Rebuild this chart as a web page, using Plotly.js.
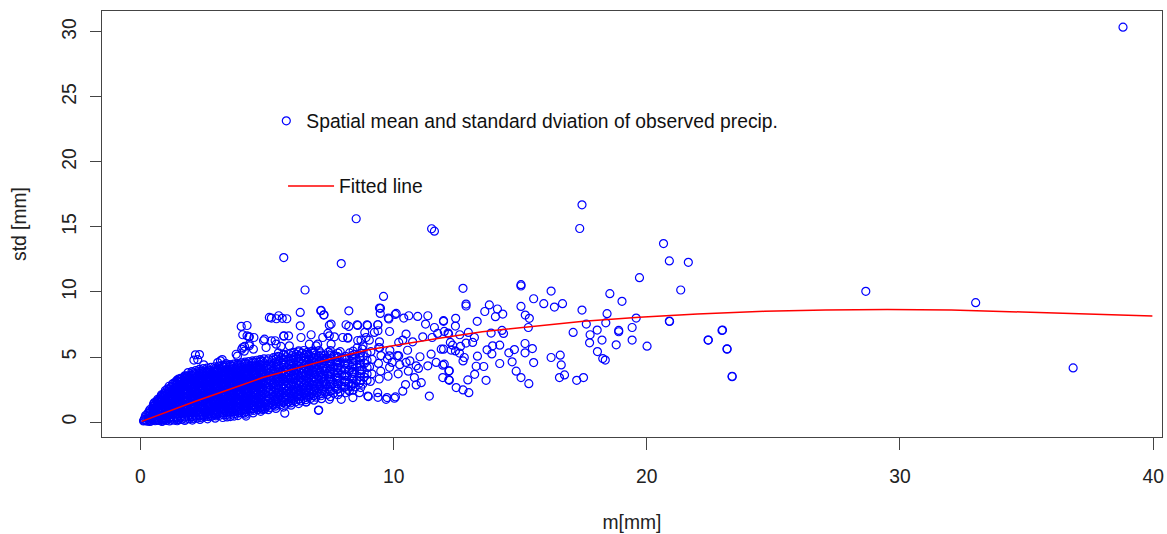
<!DOCTYPE html>
<html>
<head>
<meta charset="utf-8">
<script src="https://cdn.plot.ly/plotly-3.0.1.min.js"></script>
<style>html,body{margin:0;padding:0;background:#fff;}#chart{width:1167px;height:534px;}</style>
</head>
<body>
<div id="chart"></div>
<script>
// Observed (spatial mean m [mm], spatial std [mm]) pairs
const obsCore = [
[0.12,0.08],[0.15,0.2],[0.18,0.35],[0.14,0.12],[0.2,0.5],[0.22,0.1],
[0.28,0.06],[0.3,0.25],[0.32,0.45],[0.29,0.65],[0.33,0.8],[0.35,0.15],
[0.42,0.08],[0.45,0.3],[0.47,0.55],[0.44,0.8],[0.48,1.05],[0.5,1.25],[0.46,0.18],
[0.58,0.1],[0.6,0.35],[0.62,0.6],[0.59,0.9],[0.63,1.15],[0.61,1.4],[0.64,1.6],[0.66,0.22],
[0.73,0.12],[0.76,0.4],[0.74,0.7],[0.77,0.95],[0.75,1.25],[0.78,1.5],[0.76,1.75],[0.8,1.95],[0.79,0.25],
[0.88,0.1],[0.9,0.35],[0.92,0.62],[0.89,0.9],[0.93,1.2],[0.91,1.45],[0.94,1.72],[0.9,2.0],[0.95,2.25],[0.92,0.2],
[1.03,0.12],[1.05,0.4],[1.07,0.7],[1.04,0.98],[1.08,1.25],[1.06,1.55],[1.09,1.82],[1.05,2.1],[1.1,2.35],[1.07,2.55],[1.02,0.25],
[1.18,0.15],[1.2,0.42],[1.22,0.72],[1.19,1.0],[1.23,1.3],[1.21,1.6],[1.24,1.88],[1.2,2.15],[1.25,2.42],[1.22,2.7],[1.26,2.9],
[1.33,0.14],[1.36,0.45],[1.34,0.75],[1.37,1.05],[1.35,1.35],[1.38,1.65],[1.36,1.95],[1.39,2.25],[1.35,2.55],[1.4,2.8],[1.37,3.05],[1.41,0.3],
[1.48,0.18],[1.5,0.5],[1.52,0.8],[1.49,1.1],[1.53,1.4],[1.51,1.7],[1.54,2.0],[1.5,2.3],[1.55,2.6],[1.52,2.85],[1.56,3.1],[1.5,3.3],
[1.63,0.2],[1.66,0.52],[1.64,0.85],[1.67,1.15],[1.65,1.45],[1.68,1.78],[1.66,2.08],[1.69,2.38],[1.65,2.68],[1.7,2.95],[1.67,3.2],[1.72,3.45],
[1.78,0.22],[1.8,0.55],[1.82,0.88],[1.79,1.2],[1.83,1.5],[1.81,1.82],[1.84,2.12],[1.8,2.42],[1.85,2.72],[1.82,3.0],[1.86,3.28],[1.83,3.55],
[1.93,0.25],[1.96,0.58],[1.94,0.9],[1.97,1.22],[1.95,1.55],[1.98,1.88],[1.96,2.2],[1.99,2.5],[1.95,2.8],[2.0,3.08],[1.97,3.35],[2.01,3.62],
[2.08,0.28],[2.1,0.6],[2.12,0.95],[2.09,1.28],[2.13,1.6],[2.11,1.92],[2.14,2.25],[2.1,2.55],[2.15,2.85],[2.12,3.15],[2.16,3.42],[2.13,3.7],
[2.23,0.3],[2.26,0.62],[2.24,0.98],[2.27,1.3],[2.25,1.65],[2.28,1.98],[2.26,2.3],[2.29,2.6],[2.25,2.92],[2.3,3.2],[2.27,3.5],[2.31,3.78],
[2.38,0.35],[2.4,0.68],[2.42,1.0],[2.39,1.35],[2.43,1.68],[2.41,2.0],[2.44,2.35],[2.4,2.65],[2.45,2.95],[2.42,3.25],[2.46,3.55],[2.43,3.85],
[2.53,0.4],[2.56,0.72],[2.54,1.05],[2.57,1.4],[2.55,1.72],[2.58,2.05],[2.56,2.38],[2.59,2.7],[2.55,3.0],[2.6,3.3],[2.57,3.6],[2.61,3.9],
[2.68,0.42],[2.7,0.75],[2.72,1.1],[2.69,1.42],[2.73,1.78],[2.71,2.1],[2.74,2.42],[2.7,2.75],[2.75,3.05],[2.72,3.35],[2.76,3.65],[2.73,3.95],
[2.83,0.45],[2.86,0.78],[2.84,1.12],[2.87,1.45],[2.85,1.8],[2.88,2.12],[2.86,2.45],[2.89,2.78],[2.85,3.1],[2.9,3.4],[2.87,3.7],[2.91,4.0],
[2.98,0.48],[3.0,0.82],[3.02,1.15],[2.99,1.5],[3.03,1.82],[3.01,2.15],[3.04,2.5],[3.0,2.82],[3.05,3.15],[3.02,3.45],[3.06,3.75],[3.03,4.05],
[3.13,0.52],[3.16,0.85],[3.14,1.2],[3.17,1.52],[3.15,1.85],[3.18,2.2],[3.16,2.52],[3.19,2.85],[3.15,3.18],[3.2,3.5],[3.17,3.8],[3.21,4.1],
[3.28,0.55],[3.3,0.88],[3.32,1.22],[3.29,1.55],[3.33,1.9],[3.31,2.22],[3.34,2.55],[3.3,2.9],[3.35,3.22],[3.32,3.55],[3.36,3.85],[3.33,4.18],
[3.43,0.58],[3.46,0.9],[3.44,1.25],[3.47,1.6],[3.45,1.92],[3.48,2.25],[3.46,2.6],[3.49,2.92],[3.45,3.25],[3.5,3.58],[3.47,3.9],[3.51,4.22],
[3.58,0.6],[3.6,0.95],[3.62,1.28],[3.59,1.62],[3.63,1.95],[3.61,2.3],[3.64,2.62],[3.6,2.95],[3.65,3.3],[3.62,3.62],[3.66,3.95],[3.63,4.28],
[3.73,0.65],[3.76,0.98],[3.74,1.3],[3.77,1.65],[3.75,2.0],[3.78,2.32],[3.76,2.65],[3.79,3.0],[3.75,3.32],[3.8,3.65],[3.77,4.0],[3.81,4.32],
[3.88,0.7],[3.9,1.02],[3.92,1.35],[3.89,1.68],[3.93,2.02],[3.91,2.35],[3.94,2.7],[3.9,3.02],[3.95,3.35],[3.92,3.7],[3.96,4.02],[3.93,4.38],
[4.03,0.75],[4.06,1.08],[4.04,1.4],[4.07,1.72],[4.05,2.05],[4.08,2.4],[4.06,2.72],[4.09,3.05],[4.05,3.4],[4.1,3.72],[4.07,4.05],[4.11,4.42],
[4.18,0.8],[4.2,1.12],[4.22,1.45],[4.19,1.78],[4.23,2.1],[4.21,2.42],[4.24,2.75],[4.2,3.1],[4.25,3.42],[4.22,3.75],[4.26,4.1],[4.23,4.45],
[4.33,0.85],[4.36,1.15],[4.34,1.5],[4.37,1.82],[4.35,2.15],[4.38,2.48],[4.36,2.8],[4.39,3.12],[4.35,3.45],[4.4,3.8],[4.37,4.12],[4.41,4.5],
[4.48,0.9],[4.5,1.2],[4.52,1.52],[4.49,1.85],[4.53,2.18],[4.51,2.5],[4.54,2.82],[4.5,3.15],[4.55,3.5],[4.52,3.82],[4.56,4.15],[4.53,4.55],
[4.63,0.95],[4.66,1.25],[4.64,1.58],[4.67,1.9],[4.65,2.22],[4.68,2.55],[4.66,2.88],[4.69,3.2],[4.65,3.52],[4.7,3.85],[4.67,4.2],[4.71,4.6],
[4.78,1.0],[4.8,1.3],[4.82,1.62],[4.79,1.95],[4.83,2.28],[4.81,2.6],[4.84,2.92],[4.8,3.25],[4.85,3.58],[4.82,3.9],[4.86,4.25],[4.83,4.65],
[4.93,1.05],[4.96,1.35],[4.94,1.68],[4.97,2.0],[4.95,2.32],[4.98,2.65],[4.96,2.98],[4.99,3.3],[4.95,3.62],[5.0,3.95],[4.97,4.3],[5.01,4.7]
];
// Further observations filling the solid part of the cloud, listed as columns: one m value, several std values
const fillM = [0.37,0.52,0.68,0.83,0.98,1.13,1.28,1.43,1.58,1.73,1.88,2.03,2.18,2.33,2.48,2.63,2.78,2.93,3.08,3.23,3.38,3.53,3.68,3.83,3.98,4.13,4.28,4.43,4.58,4.73,4.88,
  5.25,5.45,5.65,5.85,6.05,6.25,6.45,6.65,6.85,7.05,7.27,7.52,7.77,8.05,8.35,8.65,8.95];
const fillS = [
[0.05,0.3,0.55,0.75,0.95],
[0.12,0.4,0.7,0.95,1.2,1.4],
[0.15,0.5,0.78,1.05,1.3,1.55,1.75],
[0.2,0.52,0.82,1.1,1.38,1.62,1.88,2.1],
[0.22,0.55,0.85,1.12,1.4,1.68,1.95,2.2,2.42],
[0.28,0.58,0.88,1.15,1.45,1.72,2.0,2.28,2.55,2.75],
[0.3,0.6,0.9,1.2,1.5,1.8,2.1,2.4,2.68,2.95],
[0.32,0.65,0.95,1.25,1.55,1.85,2.15,2.45,2.72,2.98,3.2],
[0.35,0.68,1.0,1.3,1.6,1.9,2.2,2.5,2.8,3.05,3.35],
[0.38,0.7,1.02,1.35,1.65,1.98,2.28,2.58,2.88,3.15,3.45],
[0.4,0.72,1.05,1.38,1.7,2.02,2.35,2.65,2.95,3.25,3.5,3.8],
[0.42,0.78,1.1,1.42,1.75,2.08,2.4,2.7,3.0,3.3,3.58,3.88],
[0.45,0.8,1.15,1.48,1.8,2.12,2.45,2.78,3.08,3.38,3.65,3.95],
[0.48,0.85,1.18,1.52,1.85,2.18,2.5,2.82,3.12,3.42,3.72,4.05],
[0.52,0.88,1.22,1.55,1.9,2.22,2.55,2.88,3.18,3.48,3.78,4.1],
[0.55,0.9,1.25,1.6,1.92,2.25,2.58,2.92,3.22,3.52,3.82,4.15],
[0.6,0.95,1.3,1.62,1.95,2.3,2.62,2.95,3.25,3.55,3.88,4.2],
[0.62,0.98,1.32,1.65,2.0,2.32,2.65,2.98,3.3,3.6,3.92,4.25],
[0.65,1.0,1.35,1.68,2.02,2.35,2.68,3.0,3.32,3.62,3.95,4.3],
[0.7,1.05,1.38,1.72,2.05,2.38,2.72,3.05,3.38,3.68,4.0,4.35],
[0.72,1.08,1.4,1.75,2.08,2.42,2.75,3.08,3.4,3.72,4.02,4.38],
[0.75,1.1,1.45,1.78,2.12,2.45,2.78,3.12,3.45,3.78,4.08,4.42],
[0.8,1.12,1.48,1.8,2.15,2.48,2.82,3.15,3.48,3.8,4.12,4.45],
[0.85,1.18,1.52,1.85,2.18,2.52,2.85,3.18,3.52,3.85,4.18,4.5],
[0.88,1.22,1.55,1.88,2.22,2.55,2.88,3.22,3.55,3.88,4.22,4.55],
[0.92,1.25,1.6,1.92,2.25,2.58,2.92,3.25,3.58,3.92,4.25,4.6],
[0.98,1.3,1.62,1.95,2.28,2.62,2.95,3.28,3.62,3.95,4.3,4.65],
[1.02,1.35,1.68,2.0,2.32,2.65,2.98,3.32,3.65,3.98,4.32,4.7],
[1.08,1.4,1.72,2.05,2.38,2.7,3.02,3.35,3.68,4.02,4.38,4.75],
[1.12,1.45,1.78,2.1,2.42,2.75,3.08,3.4,3.72,4.05,4.42,4.8],
[1.18,1.5,1.82,2.15,2.48,2.8,3.12,3.45,3.78,4.1,4.48,4.85],
[1.3,1.65,2.0,2.35,2.7,3.05,3.4,3.75,4.1,4.5,4.95],
[1.4,1.75,2.1,2.45,2.8,3.15,3.5,3.85,4.25,4.65,5.05],
[1.5,1.85,2.2,2.55,2.9,3.25,3.6,3.95,4.35,4.75,5.15],
[1.55,1.9,2.25,2.6,2.95,3.3,3.65,4.05,4.45,4.85,5.25],
[1.65,2.0,2.35,2.7,3.05,3.4,3.75,4.15,4.55,4.95,5.35],
[1.75,2.1,2.45,2.8,3.15,3.5,3.9,4.25,4.6,5.0,5.4],
[1.85,2.2,2.55,2.9,3.25,3.6,4.0,4.35,4.7,5.1,5.5],
[1.95,2.3,2.65,3.0,3.35,3.7,4.05,4.4,4.8,5.2],
[2.05,2.4,2.75,3.1,3.45,3.8,4.2,4.55,4.95,5.3],
[2.15,2.55,2.9,3.25,3.6,4.0,4.35,4.7,5.05,5.5],
[2.3,2.7,3.1,3.5,3.9,4.3,4.7,5.1],
[2.4,2.85,3.25,3.65,4.05,4.45,4.85,5.25],
[2.5,2.95,3.4,3.8,4.2,4.65,5.05],
[2.65,3.1,3.55,4.0,4.45,4.9],
[2.8,3.3,3.75,4.2,4.65,5.1],
[3.0,3.5,3.95,4.45,4.95],
[3.2,3.7,4.2,4.75,5.3]
];
const fill2M = [0.55,0.85,1.15,1.45,1.75,2.05,2.35,2.65,2.95,3.25,3.55,3.85,4.15,4.45,4.75,5.05,5.35,5.65,5.95,6.25,6.55,6.85,7.15,7.5,7.8,8.1,8.4,8.7];
const fill2S = [
[0.25,0.5,0.82,1.08,1.3,1.5],
[0.05,0.28,0.48,0.75,1.02,1.3,1.58,1.85,2.05],
[0.08,0.32,0.55,0.82,1.1,1.38,1.68,1.95,2.22,2.5],
[0.1,0.38,0.62,0.9,1.18,1.48,1.78,2.08,2.38,2.65,2.92,3.15],
[0.12,0.4,0.68,0.98,1.28,1.58,1.88,2.18,2.48,2.78,3.05,3.32,3.55],
[0.15,0.45,0.72,1.02,1.32,1.65,1.98,2.3,2.6,2.92,3.2,3.5,3.78],
[0.2,0.52,0.8,1.1,1.42,1.75,2.08,2.4,2.72,3.02,3.32,3.62,3.92],
[0.25,0.6,0.88,1.18,1.5,1.82,2.15,2.48,2.8,3.1,3.42,3.72,4.02],
[0.3,0.68,0.95,1.25,1.58,1.9,2.22,2.55,2.88,3.2,3.5,3.82,4.12],
[0.35,0.75,1.02,1.32,1.65,1.98,2.3,2.62,2.95,3.28,3.6,3.92,4.25],
[0.42,0.8,1.08,1.4,1.72,2.05,2.38,2.7,3.02,3.35,3.68,4.0,4.32],
[0.5,0.88,1.15,1.48,1.8,2.12,2.45,2.78,3.1,3.42,3.75,4.08,4.42],
[0.6,0.95,1.22,1.55,1.88,2.2,2.52,2.85,3.18,3.5,3.82,4.15,4.5],
[0.7,1.05,1.3,1.62,1.95,2.28,2.6,2.92,3.25,3.58,3.9,4.22,4.6],
[0.82,1.15,1.4,1.7,2.02,2.35,2.68,3.0,3.32,3.65,3.98,4.32,4.7],
[0.95,1.28,1.6,1.95,2.3,2.65,3.0,3.35,3.7,4.05,4.42,4.85],
[1.05,1.4,1.75,2.1,2.45,2.8,3.15,3.5,3.85,4.22,4.62,5.0],
[1.15,1.55,1.9,2.25,2.6,2.95,3.3,3.68,4.02,4.4,4.8,5.2],
[1.3,1.65,2.0,2.35,2.72,3.08,3.42,3.78,4.12,4.5,4.9,5.3],
[1.42,1.78,2.15,2.5,2.85,3.22,3.58,3.92,4.3,4.68,5.08,5.48],
[1.55,1.9,2.25,2.62,2.98,3.35,3.7,4.05,4.42,4.8,5.2],
[1.68,2.02,2.38,2.75,3.12,3.48,3.85,4.22,4.6,4.98,5.38],
[1.8,2.18,2.55,2.92,3.3,3.65,4.02,4.4,4.78,5.15],
[1.95,2.35,2.75,3.12,3.5,3.9,4.3,4.7,5.1,5.5],
[2.1,2.55,2.95,3.35,3.75,4.15,4.55,4.95,5.3],
[2.25,2.75,3.2,3.65,4.1,4.55,5.05],
[2.45,2.95,3.45,3.9,4.4,4.9,5.45],
[2.65,3.2,3.7,4.25,4.75,5.3]
];
const obsMid = [
[5.12,1.12],[5.18,1.48],[5.1,1.83],[5.2,2.17],[5.14,2.52],[5.22,2.86],[5.16,3.22],[5.11,3.57],[5.24,3.92],[5.15,4.3],[5.21,4.74],
[5.33,1.22],[5.38,1.57],[5.31,1.92],[5.41,2.24],[5.35,2.62],[5.29,2.97],[5.4,3.31],[5.34,3.66],[5.3,4.02],[5.39,4.42],[5.36,4.86],
[5.53,1.33],[5.58,1.63],[5.5,2.02],[5.6,2.36],[5.55,2.71],[5.49,3.06],[5.61,3.38],[5.54,3.76],[5.5,4.12],[5.59,4.49],[5.57,4.93],
[5.74,1.38],[5.79,1.72],[5.71,2.07],[5.8,2.41],[5.76,2.77],[5.7,3.12],[5.81,3.44],[5.73,3.82],[5.78,4.16],[5.72,4.57],[5.77,5.02],
[5.93,1.47],[5.98,1.81],[5.9,2.16],[6.0,2.52],[5.95,2.86],[5.91,3.21],[6.01,3.56],[5.94,3.9],[5.97,4.26],[5.92,4.66],[5.99,5.1],
[6.13,1.56],[6.19,1.92],[6.1,2.26],[6.2,2.61],[6.15,2.96],[6.11,3.31],[6.21,3.66],[6.14,4.01],[6.18,4.36],[6.12,4.77],[6.17,5.21],
[6.33,1.62],[6.38,2.01],[6.3,2.36],[6.41,2.71],[6.35,3.06],[6.31,3.41],[6.4,3.76],[6.34,4.11],[6.37,4.46],[6.32,4.86],[6.39,5.3],
[6.53,1.72],[6.58,2.06],[6.5,2.41],[6.6,2.81],[6.55,3.16],[6.51,3.51],[6.61,3.86],[6.54,4.21],[6.57,4.56],[6.52,4.96],[6.59,5.36],
[6.73,1.82],[6.78,2.16],[6.7,2.51],[6.8,2.86],[6.75,3.21],[6.71,3.61],[6.81,3.96],[6.74,4.31],[6.77,4.66],[6.72,5.06],[6.79,5.46],
[6.93,1.91],[6.99,2.26],[6.9,2.61],[7.0,2.96],[6.95,3.31],[6.91,3.66],[7.01,4.06],[6.94,4.41],[6.97,4.76],[6.92,5.16],
[7.13,2.02],[7.19,2.41],[7.1,2.76],[7.2,3.11],[7.15,3.46],[7.11,3.81],[7.21,4.16],[7.14,4.51],[7.17,4.91],[7.12,5.31],
[7.38,2.12],[7.44,2.52],[7.35,2.91],[7.45,3.31],[7.4,3.71],[7.36,4.11],[7.46,4.52],[7.39,4.91],[7.42,5.36],
[7.63,2.22],[7.69,2.66],[7.6,3.06],[7.7,3.46],[7.65,3.86],[7.61,4.26],[7.71,4.66],[7.64,5.11],
[7.88,2.31],[7.94,2.76],[7.85,3.21],[7.95,3.61],[7.9,4.01],[7.86,4.46],[7.96,4.91],[7.89,5.41],
[8.18,2.52],[8.24,3.01],[8.15,3.51],[8.25,3.96],[8.2,4.41],[8.16,4.86],[8.26,5.31],
[8.48,2.71],[8.54,3.21],[8.45,3.71],[8.55,4.21],[8.5,4.71],[8.46,5.21],[8.56,5.71],
[8.78,2.92],[8.84,3.46],[8.75,4.01],[8.85,4.51],[8.8,5.06],[8.76,5.61],
[9.08,3.12],[9.14,3.71],[9.05,4.26],[9.15,4.81],[9.1,5.41],
[9.43,3.31],[9.49,3.91],[9.4,4.51],[9.5,5.11],[9.45,5.71],
[9.78,3.52],[9.84,4.21],[9.75,4.86],[9.85,5.51],
[10.18,3.71],[10.24,4.41],[10.15,5.11],
[10.58,3.91],[10.64,4.71],[10.55,5.52],
[10.98,4.12],[11.04,5.02]
];
const obsSparse = [
[38.81,30.36],[17.44,16.7],[17.35,14.88],[20.66,13.72],[20.89,12.39],[21.64,12.28],[19.71,11.1],[21.34,10.15],
[15.03,10.56],[15.03,10.46],[12.74,10.28],[16.22,10.07],[18.54,9.87],[15.53,9.48],[19.02,9.28],[15.93,9.1],[16.67,9.1],
[16.35,8.84],[12.86,9.07],[12.86,8.92],[13.78,9.0],[13.6,8.5],[14.1,8.69],[14.31,8.3],[14.02,8.1],[15.03,8.89],[15.2,8.22],
[15.36,7.97],[17.44,8.61],[18.43,8.33],[19.58,7.99],[20.89,7.76],[12.45,7.97],[11.97,7.74],[13.3,7.74],[12.44,7.38],
[15.32,7.27],[17.61,7.53],[18.38,7.63],[19.42,7.27],[18.89,7.04],[18.89,6.94],[17.09,6.89],[22.99,7.07],[18.04,7.07],
[17.76,6.71],[14.28,7.04],[13.85,6.84],[14.34,6.81],[12.95,6.89],[12.15,6.84],[12.61,6.71],[13.19,6.5],[17.74,6.09],
[18.23,6.3],[19.42,6.3],[22.42,6.3],[18.79,5.94],[20.01,5.83],[23.17,5.63],[18.05,5.42],[18.26,4.88],[18.36,4.76],
[23.37,3.52],[17.5,3.42],[17.23,3.21],[16.75,3.62],[16.55,3.42],[16.62,4.39],[16.58,5.14],[16.22,4.96],[15.53,4.57],
[15.19,5.32],[15.19,6.04],[15.48,5.65],[14.77,5.57],[14.55,5.32],[14.68,4.63],[14.84,3.91],[15.03,3.42],[15.34,2.95],
[14.19,4.5],[14.19,5.91],[13.91,5.86],[13.69,5.55],[13.88,5.24],[13.31,5.06],[13.56,4.27],[13.65,3.21],[13.2,3.67],
[13.26,4.29],[12.93,3.24],[12.97,2.26],[12.74,2.47],[12.47,2.65],[12.18,3.26],[12.18,3.93],[11.94,4.37],[12.74,4.7],
[12.79,4.96],[12.6,5.3],[12.86,6.07],[13.12,6.12],[12.33,5.91],[11.97,5.6],[12.24,6.12],[12.64,5.81],[12.44,5.47],[12.17,6.76],
[28.65,10.05],[32.99,9.18],[22.97,7.04],[22.43,6.3],[23.17,5.6],[23.37,3.49],[36.84,4.16],[20.9,7.73],
[8.52,15.63],[11.5,14.86],[11.61,14.67],[5.66,12.64],[7.93,12.18],[6.5,10.15],[9.6,9.66],[9.48,8.74],[9.47,8.35],
[7.14,8.58],[7.24,8.22],[8.23,8.55],[6.31,8.43],[5.17,7.99],[5.46,8.17],[5.6,7.97],[3.98,7.35],[4.04,6.71],[4.28,6.55],
[4.11,5.81],[2.17,5.17],[2.11,4.76],[6.31,7.4],[7.46,7.45],[6.74,6.71],[5.66,6.6],[8.23,7.35],[8.58,7.43],[8.97,7.43],
[9.38,7.48],[9.38,7.02],[9.79,7.99],[10.06,8.27],[10.1,8.35],[10.6,8.17],[10.95,8.12],[11.35,8.17],[10.4,7.99],[11.97,7.79],
[11.26,7.53],[11.61,7.27],[12.0,6.97],[11.74,6.81],[11.15,6.55],[11.52,6.5],[10.75,6.17],[10.49,6.76],[10.36,6.3],
[9.24,6.89],[8.91,6.5],[8.58,6.27],[8.86,6.89],[8.19,6.5],[7.66,6.55],[7.53,5.99],[6.94,5.86],[8.79,5.86],[9.41,5.73],
[9.83,5.09],[10.2,5.09],[9.94,4.58],[10.49,4.58],[10.89,4.32],[11.48,5.22],[11.88,5.6],[12.27,5.53],[11.68,4.58],[11.35,4.32],
[12.0,4.45],[12.2,3.94],[12.2,3.21],[11.94,3.42],[11.41,2.0],[11.09,3.03],[10.82,3.42],[10.89,2.85],[10.47,2.88],[10.36,2.37],
[10.03,1.83],[9.7,1.75],[9.38,1.9],[9.0,1.96],[8.65,2.26],[8.32,2.73],[7.93,1.75],[7.46,1.75],[7.03,0.9],[6.54,1.54],[6.22,2.06],
[5.7,0.68],[4.83,0.98],[5.23,1.36],[4.17,0.46],[3.91,0.72],[3.42,0.39],[3.0,0.59],[2.46,0.46],[2.79,0.46],
[3.05,4.57],[3.38,4.49],[3.78,5.21],[4.0,5.6],[4.3,5.99],[4.46,5.6],[4.9,6.37],[4.96,5.73],[5.36,5.99],[5.55,5.81],[5.88,5.86],
[6.34,6.5],[6.67,5.99],[7.0,5.99],[7.2,6.5],[7.46,6.63],[7.99,6.5],[4.21,7.42],[4.21,6.63],[4.48,6.5],[4.1,5.45],[4.3,5.86],
[3.23,4.8],[3.83,5.06],[5.45,5.32],[5.17,6.24],[5.37,7.94],[5.78,7.94],[5.85,6.63],[2.33,5.19],[2.26,4.8],[1.75,3.35],[2.5,4.4],
[3.16,4.71],[3.7,0.46],[4.1,0.7],[4.9,1.0],[2.9,0.6],[1.61,3.29],[4.3,6.55],[4.04,5.73],[5.09,8.04],
[7.53,7.53],[8.12,7.48],[8.56,7.48],[8.95,7.48],[9.37,7.48],[4.86,6.25],[5.32,6.25],[5.66,6.63],[7.4,6.81],[8.19,6.45],
[8.71,6.29],[9.04,6.29],[9.44,6.17],[9.84,6.96],[10.2,6.12],[9.44,8.76],[9.81,7.92],[7.12,8.56],[7.25,8.25],
[7.04,0.92],[8.25,2.39],[8.39,1.88],[8.98,2.0],[9.37,2.26],[9.74,1.88],[10.07,1.93]
];
// Fitted line
const fitM = [0.05,1.0,2.2,3.5,4.83,6.0,7.46,9.0,10.1,11.8,13.5,15.76,17.5,19.7,22.0,24.64,27.05,29.5,32.03,34.83,36.89,38.47,39.97];
const fitS = [0.05,0.75,1.62,2.5,3.42,4.05,4.83,5.55,5.91,6.45,6.95,7.4,7.75,8.05,8.31,8.51,8.61,8.65,8.61,8.46,8.35,8.25,8.15];

const xTicks = [0,10,20,30,40];
const yTicks = [0,5,10,15,20,25,30];

const obsM = [], obsS = [];
obsCore.concat(obsMid, obsSparse).forEach(p => { obsM.push(p[0]); obsS.push(p[1]); });
fillM.forEach((mv, i) => fillS[i].forEach(sv => { obsM.push(mv); obsS.push(sv); }));
fill2M.forEach((mv, i) => fill2S[i].forEach(sv => { obsM.push(mv); obsS.push(sv); }));

const FONT = 'Liberation Sans, Arial, sans-serif';
const FS = 19.3;

const traces = [
  {
    type: 'scatter', mode: 'markers',
    name: 'Spatial mean and standard dviation of observed precip.',
    legend: 'legend',
    x: obsM, y: obsS,
    marker: {symbol: 'circle-open', size: 8, color: '#0000FF', line: {width: 1.2, color: '#0000FF'}},
    hoverinfo: 'x+y'
  },
  {
    type: 'scatter', mode: 'lines',
    name: 'Fitted line',
    legend: 'legend2',
    x: fitM, y: fitS,
    line: {color: '#FF0000', width: 1.5}
  }
];

const legendFont = {family: FONT, size: FS, color: '#111'};
const layout = {
  width: 1167, height: 534,
  margin: {l: 102, r: 5, t: 11, b: 97},
  paper_bgcolor: '#FFFFFF', plot_bgcolor: '#FFFFFF',
  font: {family: FONT, size: FS, color: '#222'},
  showlegend: true,
  legend: {
    x: 0.155, xanchor: 'left', y: 0.787, yanchor: 'top',
    bgcolor: 'rgba(0,0,0,0)', borderwidth: 0, font: legendFont
  },
  legend2: {
    x: 0.1708, xanchor: 'left', y: 0.634, yanchor: 'top',
    bgcolor: 'rgba(0,0,0,0)', borderwidth: 0, font: legendFont,
    itemwidth: 46
  },
  xaxis: {
    range: [-1.52, 40.35], tickvals: xTicks, ticktext: xTicks.map(String),
    ticks: 'outside', ticklen: 12, tickwidth: 1, tickcolor: '#444',
    showline: true, mirror: true, linecolor: '#444', linewidth: 1.3,
    showgrid: false, zeroline: false,
    tickfont: {family: FONT, size: FS, color: '#222'},
    ticklabelstandoff: 10,
    title: {text: 'm[mm]', font: {family: FONT, size: FS, color: '#222'}, standoff: 29},
    automargin: false
  },
  yaxis: {
    range: [-1.15, 31.6], tickvals: yTicks, ticktext: yTicks.map(String),
    ticks: 'outside', ticklen: 11, tickwidth: 1, tickcolor: '#444',
    tickangle: -90,
    showline: true, mirror: true, linecolor: '#444', linewidth: 1.3,
    showgrid: false, zeroline: false,
    tickfont: {family: FONT, size: FS, color: '#222'},
    ticklabelstandoff: 6,
    title: {text: 'std [mm]', font: {family: FONT, size: FS, color: '#222'}, standoff: 27},
    automargin: false
  }
};

Plotly.newPlot('chart', traces, layout, {displayModeBar: false, staticPlot: true});
</script>
</body>
</html>
